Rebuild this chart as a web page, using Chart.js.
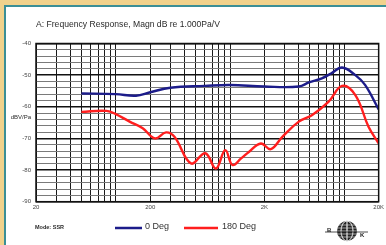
<!DOCTYPE html>
<html>
<head>
<meta charset="utf-8">
<script src="https://cdn.jsdelivr.net/npm/chart.js@4/dist/chart.umd.min.js"></script>
<style>
  html, body { margin: 0; padding: 0; background: #f1d28c; }
  #wrap { width: 386px; height: 245px; position: relative; }
  canvas { display: block; }
</style>
</head>
<body>
<div id="wrap"><canvas id="grafica" width="386" height="245"></canvas></div>
<script>
// Datos (frecuencia en Hz, magnitud en dB)
const freq0 = [50, 100, 150, 200, 300, 600, 1000, 2000, 4000, 4900, 6360, 7720, 9550, 12500, 15200, 20000];
const mag0 = [-55.8, -56.0, -56.5, -55.4, -54.0, -53.4, -53.1, -53.6, -53.6, -52.3, -51.0, -49.4, -47.6, -50.0, -53.1, -60.8];

const freq180 = [50, 83, 100, 132, 172, 220, 275, 326, 455, 607, 752, 907, 1050, 1250, 1470, 1860, 2270, 2870, 4000, 5240, 7300, 9550, 12500, 16300, 20000];
const mag180 = [-61.6, -61.3, -62.3, -64.7, -66.8, -70.0, -68.1, -69.5, -77.9, -74.7, -79.5, -73.7, -78.4, -76.3, -74.2, -71.6, -73.4, -69.5, -64.7, -62.6, -58.4, -53.4, -56.3, -66.3, -71.6];

const serieNombres = ["0 Deg", "180 Deg"];
const COLORES = ["#1c1c8a", "#ff1e1e"];

// Marcas del eje X (log) y etiquetas visibles
const xTicks = [20, 30, 40, 50, 60, 70, 80, 90, 100, 200, 300, 400, 500, 600, 700, 800, 900,
                1000, 2000, 3000, 4000, 5000, 6000, 7000, 8000, 9000, 10000, 20000];
const xEtiquetas = { 20: "20", 200: "200", 2000: "2K", 20000: "20K" };

const titulo = "A: Frequency Response, Magn dB re 1.000Pa/V";
const yTitulo = "dBV/Pa";
const modo = "Mode: SSR";

function puntos(xs, ys) {
    return xs.map((x, i) => ({ x, y: ys[i] }));
}

// -------- FONDO Y DECORADO --------
const decorado = {
    id: "decorado",
    beforeDraw(chart) {
        const ctx = chart.ctx;
        ctx.save();
        ctx.fillStyle = "#f1d28c";
        ctx.fillRect(0, 0, 386, 245);
        ctx.fillStyle = "#3b8f96";
        ctx.fillRect(4, 5, 382, 240);
        ctx.fillStyle = "#ffffff";
        ctx.fillRect(6, 7, 380, 238);
        ctx.restore();
    },
    afterDraw(chart) {
        const ctx = chart.ctx;
        const a = chart.chartArea;
        ctx.save();
        // marco del area
        ctx.strokeStyle = "#111";
        ctx.lineWidth = 1.5;
        ctx.strokeRect(a.left, a.top, a.right - a.left, a.bottom - a.top);

        // titulo
        ctx.fillStyle = "#2a2a2a";
        ctx.font = "8.6px 'Liberation Sans', Arial, sans-serif";
        ctx.textBaseline = "middle";
        ctx.fillText(titulo, 36, 25);

        // titulo eje Y
        ctx.font = "6px 'Liberation Sans', Arial, sans-serif";
        ctx.textAlign = "right";
        ctx.fillText(yTitulo, 31, 117);

        // leyenda
        ctx.textAlign = "left";
        ctx.font = "bold 5.5px 'Liberation Sans', Arial, sans-serif";
        ctx.fillText(modo, 35, 227);
        const leyenda = [{ x1: 115, x2: 142, tx: 145 }, { x1: 184, x2: 218, tx: 222 }];
        ctx.font = "9px 'Liberation Sans Narrow', 'Liberation Sans', Arial, sans-serif";
        leyenda.forEach((l, i) => {
            ctx.strokeStyle = COLORES[i];
            ctx.lineWidth = 2.5;
            ctx.beginPath();
            ctx.moveTo(l.x1, 228);
            ctx.lineTo(l.x2, 228);
            ctx.stroke();
            ctx.fillStyle = "#333";
            ctx.fillText(serieNombres[i], l.tx, 227);
        });

        // logotipo (globo)
        const cx = 347, cy = 231, r = 10;
        ctx.fillStyle = "#222";
        ctx.beginPath();
        ctx.arc(cx, cy, r, 0, Math.PI * 2);
        ctx.fill();
        ctx.strokeStyle = "#ddd";
        ctx.lineWidth = 0.7;
        [-0.55, 0, 0.55].forEach(k => {
            ctx.beginPath();
            ctx.ellipse(cx, cy, Math.abs(k) * r + 0.5, r, 0, 0, Math.PI * 2);
            ctx.stroke();
        });
        [-6, -3, 0, 3, 6].forEach(dy => {
            const w = Math.sqrt(r * r - dy * dy);
            ctx.beginPath();
            ctx.moveTo(cx - w, cy + dy);
            ctx.lineTo(cx + w, cy + dy);
            ctx.stroke();
        });
        ctx.strokeStyle = "#222";
        ctx.lineWidth = 0.8;
        ctx.beginPath();
        ctx.moveTo(325, cy + 1);
        ctx.lineTo(368, cy + 1);
        ctx.stroke();
        ctx.fillStyle = "#222";
        ctx.font = "bold 6px 'Liberation Sans', Arial, sans-serif";
        ctx.fillText("B", 327, cy - 1);
        ctx.fillText("K", 360, cy + 4);
        ctx.restore();
    }
};

// -------- GRAFICA --------
const ctx = document.getElementById("grafica").getContext("2d");
new Chart(ctx, {
    type: "line",
    data: {
        datasets: [
            {
                label: serieNombres[0],
                data: puntos(freq0, mag0),
                borderColor: COLORES[0],
                borderWidth: 2.4,
                pointRadius: 0,
                tension: 0.4,
                fill: false
            },
            {
                label: serieNombres[1],
                data: puntos(freq180, mag180),
                borderColor: COLORES[1],
                borderWidth: 2.4,
                pointRadius: 0,
                tension: 0.4,
                fill: false
            }
        ]
    },
    options: {
        responsive: false,
        animation: false,
        layout: { padding: { left: 0, right: 6, top: 43.5, bottom: 0 } },
        plugins: {
            legend: { display: false },
            tooltip: { enabled: false }
        },
        scales: {
            x: {
                type: "logarithmic",
                min: 20,
                max: 20000,
                z: 1,
                afterBuildTicks: scale => {
                    scale.ticks = xTicks.map(v => ({ value: v }));
                },
                afterFit: scale => { scale.height = 43.3; },
                ticks: {
                    autoSkip: false,
                    maxRotation: 0,
                    padding: 2,
                    color: "#444",
                    font: { size: 6, family: "'Liberation Sans', Arial, sans-serif" },
                    callback: value => xEtiquetas[value] || ""
                },
                grid: {
                    drawTicks: false,
                    color: "#1a1a1a",
                    lineWidth: 1
                },
                border: { display: false }
            },
            y: {
                min: -90,
                max: -40,
                afterFit: scale => { scale.width = 36; },
                ticks: {
                    stepSize: 2,
                    autoSkip: false,
                    padding: 5,
                    color: "#444",
                    font: { size: 6, family: "'Liberation Sans', Arial, sans-serif" },
                    callback: value => value % 10 === 0 ? String(value) : ""
                },
                grid: {
                    drawTicks: false,
                    color: c => c.tick && c.tick.value % 10 === 0 ? "#111" : "#7a7a7a",
                    lineWidth: c => c.tick && c.tick.value % 10 === 0 ? 1.5 : 1
                },
                border: { display: false }
            }
        }
    },
    plugins: [decorado]
});
</script>
</body>
</html>
